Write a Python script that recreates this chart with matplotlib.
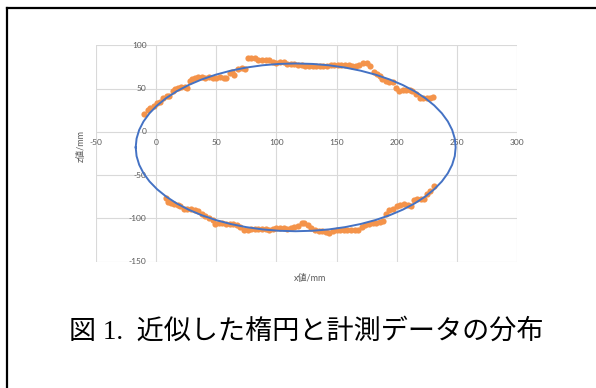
import numpy as np
import matplotlib
matplotlib.use('Agg')
import matplotlib.pyplot as plt
from matplotlib.lines import Line2D

# measured points, upper half (x [mm], z [mm])
upper_x = [-10, -7, -5, -2, 1, 3, 6, 9, 11, 14, 16, 18, 21, 24, 26, 28, 30, 32, 35, 38,
           41, 44, 47, 50, 53, 56, 58, 61, 63, 65, 68, 71, 74, 76, 79, 82, 85, 88, 91, 94,
           97, 100, 103, 106, 109, 112, 115, 118, 121, 124, 127, 130, 133, 136, 139, 142,
           145, 148, 151, 154, 157, 160, 163, 166, 169, 172, 175, 178, 181, 184, 186, 188,
           191, 194, 197, 199, 202, 205, 208, 211, 213, 216, 219, 222, 225, 228, 230]
upper_z = [21, 25, 27, 30, 33, 35, 39, 41, 41, 47, 49, 51, 52, 52, 51, 59, 61, 62, 63, 63,
           62, 63, 62, 62, 63, 62, 62, 68, 69, 66, 73, 74, 73, 85, 85, 85, 83, 83, 83, 83,
           81, 80, 81, 81, 78, 78, 78, 77, 77, 76, 76, 76, 76, 76, 76, 76,
           77, 77, 77, 77, 77, 77, 76, 76, 77, 79, 79, 76, 69, 67, 64, 61,
           59, 58, 58, 51, 47, 48, 48, 48, 47, 44, 39, 39, 39, 39, 40]

# measured points, lower half
lower_x = [8, 10, 12, 15, 18, 20, 23, 26, 29, 32, 35, 38, 41, 44, 47, 49, 52, 55, 58, 61,
           64, 67, 70, 73, 76, 79, 82, 85, 88, 91, 94, 97, 100, 103, 106, 109, 112, 115,
           118, 121, 123, 126, 129, 132, 135, 138, 141, 144, 147, 150, 153, 156, 159, 162,
           165, 168, 171, 174, 177, 180, 183, 186, 189, 191, 194, 197, 200, 203, 206, 209,
           212, 214, 217, 220, 223, 225, 228, 231]
lower_z = [-76, -81, -82, -83, -85, -86, -89, -89, -89, -90, -92, -95, -97, -100, -102, -107,
           -106, -106, -107, -107, -107, -108, -110, -113, -113, -112, -112, -112, -112, -112,
           -113, -112, -111, -111, -111, -112, -111, -110, -109, -106, -105, -108, -111, -113,
           -115, -115, -116, -117, -115, -114, -114, -114, -114, -114, -113, -113, -110, -108,
           -107, -106, -105, -104, -103, -95, -91, -89, -86, -85, -84, -85, -86, -79, -78, -78,
           -78, -72, -69, -63]

# fitted ellipse parameters
ell_center = (116.0, -18.0)
ell_a = 133.0
ell_b = 97.0

x_ticks = [-50, 0, 50, 100, 150, 200, 250, 300]
z_ticks = [-150, -100, -50, 0, 50, 100]

caption = '図 1.  近似した楕円と計測データの分布'

W, H = 596, 388
fig = plt.figure(figsize=(W / 100, H / 100), dpi=100)
ax = fig.add_axes([96 / W, 1 - 261.5 / H, 421 / W, 216.2 / H])

t = np.linspace(np.pi, 3 * np.pi, 61)
ex = ell_center[0] + ell_a * np.cos(t)
ez = ell_center[1] + ell_b * np.sin(t)

ax.scatter(upper_x, upper_z, s=20, color='#F4934A', linewidths=0, zorder=3)
ax.scatter(lower_x, lower_z, s=20, color='#F4934A', linewidths=0, zorder=3)
ax.plot(ex, ez, color='#4472C4', lw=1.4, zorder=4)

ax.set_xlim(-50, 300)
ax.set_ylim(-150, 100)
for v in x_ticks:
    ax.axvline(v, color='#D9D9D9', lw=0.8, zorder=1)
for v in z_ticks:
    ax.axhline(v, color='#D9D9D9', lw=0.8, zorder=1)
for s in ax.spines.values():
    s.set_visible(False)
ax.set_xticks([])
ax.set_yticks([])

# tick labels sit next to the axes crossing at zero
lab = dict(fontsize=6, color='#595959', family='Lato')
for v in x_ticks:
    ax.annotate(str(v), (v, 0), xytext=(0, -8), textcoords='offset points',
                ha='center', va='center', **lab)
for v in z_ticks:
    ax.annotate(str(v), (0, v), xytext=(-7, 0), textcoords='offset points',
                ha='right', va='center', **lab)

cjk = ['Lato', 'Noto Sans CJK JP']
fig.text(81 / W, 1 - 146 / H, 'z値/mm', rotation=90, ha='center', va='center',
         fontsize=6.5, color='#595959', family=cjk)
fig.text(310 / W, 1 - 278 / H, 'x値/mm', ha='center', va='center',
         fontsize=6.5, color='#595959', family=cjk)

fig.text(306.5 / W, 1 - 332 / H, caption, ha='center', va='center', fontsize=19.5,
         color='black', family=['Liberation Serif', 'Noto Sans CJK JP'])

# frame lines on left and top
fig.add_artist(Line2D([7 / W, 7 / W], [0, 1 - 8 / H], color='black', lw=1.6,
                      transform=fig.transFigure))
fig.add_artist(Line2D([7 / W, 1], [1 - 8 / H, 1 - 8 / H], color='black', lw=1.6,
                      transform=fig.transFigure))

fig.savefig('out.png', dpi=100)
